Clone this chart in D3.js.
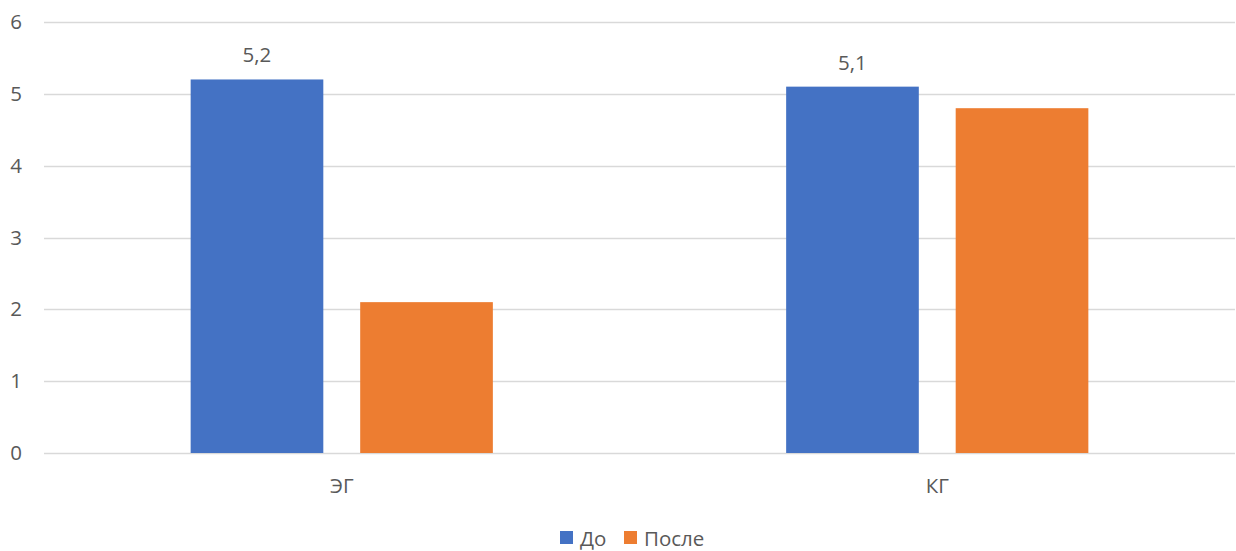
<!DOCTYPE html>
<html>
<head>
<meta charset="utf-8">
<script src="https://cdn.jsdelivr.net/npm/d3@7"></script>
<style>
  html, body { margin: 0; padding: 0; background: #fff; }
  svg { display: block; }
  text { font-family: "Open Sans", Lato, sans-serif; fill: #595959; }
</style>
</head>
<body>
<svg id="chart" width="1236" height="551"></svg>
<script>
// Group means before and after, for the experimental and control groups
const categories = ["ЭГ", "КГ"];
const seriesNames = ["До", "После"];
const valuesBefore = [5.2, 5.1];
const valuesAfter = [2.1, 4.8];
const yTicks = [0, 1, 2, 3, 4, 5, 6];
// Only the "До" series carries data labels
const labelledSeries = ["До"];

const colors = { "До": "#4472C4", "После": "#ED7D31" };
const fontFamily = "'Open Sans', Lato, sans-serif";
const fontSize = 20.5;

const width = 1236, height = 551;
const margin = { left: 44, right: 1, top: 22, bottom: 98 };

const svg = d3.select("#chart");

const x = d3.scaleBand()
  .domain(categories)
  .range([margin.left, width - margin.right])
  .paddingInner(0).paddingOuter(0);

const x1 = d3.scaleBand()
  .domain(seriesNames)
  .range([0, x.bandwidth()])
  .paddingInner(0.2175)
  .paddingOuter(0.865);

const y = d3.scaleLinear()
  .domain([0, 6])
  .range([height - margin.bottom, margin.top]);

// Horizontal gridlines
svg.append("g")
  .selectAll("line")
  .data(yTicks)
  .join("line")
  .attr("x1", margin.left)
  .attr("x2", width - margin.right)
  .attr("y1", d => Math.round(y(d)) + 0.5)
  .attr("y2", d => Math.round(y(d)) + 0.5)
  .attr("stroke", "#d9d9d9")
  .attr("stroke-width", 1.3);

// Y axis labels
const yAxis = d3.axisLeft(y).tickValues(yTicks).tickSize(0).tickPadding(0)
  .tickFormat(d => d);
svg.append("g")
  .attr("transform", `translate(22,0)`)
  .call(yAxis)
  .call(g => g.select(".domain").remove())
  .call(g => g.selectAll("text")
    .attr("font-size", fontSize)
    .attr("font-family", fontFamily)
    .attr("fill", "#595959"));

const rows = categories.map((c, i) => ({
  category: c,
  values: [
    { series: "До", value: valuesBefore[i] },
    { series: "После", value: valuesAfter[i] }
  ]
}));

const groups = svg.append("g")
  .selectAll("g")
  .data(rows)
  .join("g")
  .attr("transform", d => `translate(${x(d.category)},0)`);

groups.selectAll("rect")
  .data(d => d.values)
  .join("rect")
  .attr("x", d => x1(d.series))
  .attr("width", x1.bandwidth())
  .attr("y", d => y(d.value))
  .attr("height", d => y(0) - y(d.value))
  .attr("fill", d => colors[d.series]);

groups.selectAll("text.value")
  .data(d => d.values.filter(v => labelledSeries.includes(v.series)))
  .join("text")
  .attr("class", "value")
  .attr("x", d => x1(d.series) + x1.bandwidth() / 2)
  .attr("y", d => y(d.value) - 17)
  .attr("text-anchor", "middle")
  .attr("font-size", fontSize)
  .text(d => String(d.value).replace(".", ","));

// Category axis labels
const xAxis = d3.axisBottom(x).tickSize(0).tickPadding(0);
svg.append("g")
  .attr("transform", `translate(0,${y(0)})`)
  .call(xAxis)
  .call(g => g.select(".domain").remove())
  .call(g => g.selectAll("text")
    .attr("dy", null)
    .attr("y", 40)
    .attr("font-size", fontSize)
    .attr("font-family", fontFamily)
    .attr("fill", "#595959"));

// Legend
const legendItems = [
  { name: "До", x: 560 },
  { name: "После", x: 624 }
];
const legend = svg.append("g");
const li = legend.selectAll("g")
  .data(legendItems)
  .join("g")
  .attr("transform", d => `translate(${d.x},531)`);
li.append("rect")
  .attr("width", 13).attr("height", 13)
  .attr("fill", d => colors[d.name]);
li.append("text")
  .attr("x", 20).attr("y", 15)
  .attr("font-size", fontSize)
  .text(d => d.name);
</script>
</body>
</html>
